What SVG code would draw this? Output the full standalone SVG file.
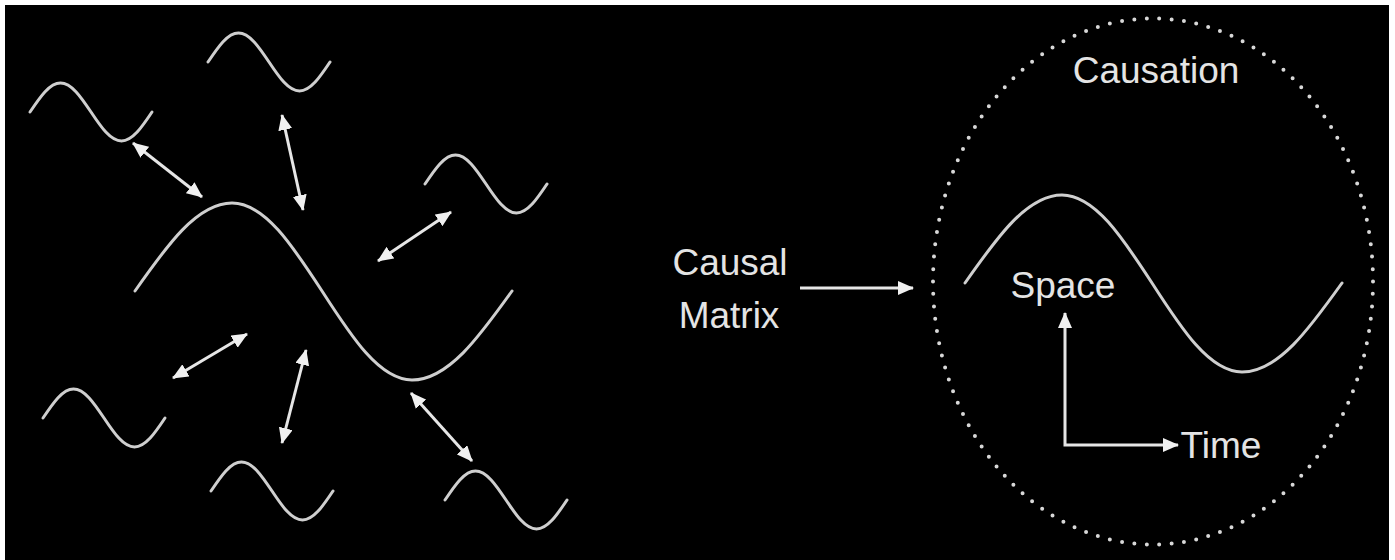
<svg xmlns="http://www.w3.org/2000/svg" width="1395" height="560" viewBox="0 0 1395 560">
  <style>
    .wave { fill: none; stroke: #cfcfcf; stroke-width: 3; stroke-linecap: round; }
    .conn { fill: none; stroke: #e6e6e6; stroke-width: 3; }
    .lbl { font-family: "Liberation Sans", Arial, sans-serif; font-size: 37px; fill: #e4e4e4; text-anchor: middle; }
    .dots { fill: none; stroke: #d8d8d8; stroke-width: 4; stroke-linecap: round; stroke-dasharray: 0 1; }
  </style>
  <defs>
    <path id="sw" d="M0,0 C9.95,-14.9 19.46,-29 30.5,-29 C41.54,-29 51.05,-14.9 61,0 C70.95,14.9 80.46,29 91.5,29 C102.54,29 112.05,14.9 122,0"/>
    <path id="bw" d="M135,291 C166.6,245.9 196.9,203 232,203 C264.6,203 292.7,245.9 322,291 C351.3,336.6 379.4,380 412,380 C448.2,380 479.4,336.6 512,291"/>
    <marker id="ah" viewBox="0 0 16 14" markerWidth="16" markerHeight="14" refX="15" refY="7" orient="auto-start-reverse" markerUnits="userSpaceOnUse">
      <path d="M0,0 L16,7 L0,14 z" fill="#f0f0f0"/>
    </marker>
  </defs>
  <rect x="5" y="5" width="1384" height="555" fill="#000"/>

  <g id="wave-tl"><use href="#sw" class="wave" transform="translate(30,112)"/></g>
  <g id="wave-t"><use href="#sw" class="wave" transform="translate(208,62)"/></g>
  <g id="wave-r"><use href="#sw" class="wave" transform="translate(425,184)"/></g>
  <g id="wave-bl"><use href="#sw" class="wave" transform="translate(43,418)"/></g>
  <g id="wave-b"><use href="#sw" class="wave" transform="translate(211,491)"/></g>
  <g id="wave-br"><use href="#sw" class="wave" transform="translate(445,500)"/></g>
  <g id="wave-main"><use href="#bw" class="wave"/></g>

  <g id="causal-matrix">
    <text class="lbl" x="730" y="275">Causal</text>
    <text class="lbl" x="729" y="328">Matrix</text>
  </g>

  <g id="causation">
    <ellipse class="dots" cx="1153" cy="281.5" rx="220" ry="263" pathLength="122"/>
    <text class="lbl" x="1156" y="83">Causation</text>
    <use href="#bw" class="wave" transform="translate(830,-8)"/>
    <text class="lbl" x="1063" y="298">Space</text>
    <text class="lbl" x="1221" y="458">Time</text>
  </g>

  <g id="connectors">
    <line class="conn" x1="133" y1="143" x2="202" y2="197" marker-start="url(#ah)" marker-end="url(#ah)"/>
    <line class="conn" x1="282" y1="115" x2="303" y2="210" marker-start="url(#ah)" marker-end="url(#ah)"/>
    <line class="conn" x1="378" y1="261" x2="451" y2="212" marker-start="url(#ah)" marker-end="url(#ah)"/>
    <line class="conn" x1="173" y1="378" x2="247" y2="334" marker-start="url(#ah)" marker-end="url(#ah)"/>
    <line class="conn" x1="306" y1="350" x2="282" y2="443" marker-start="url(#ah)" marker-end="url(#ah)"/>
    <line class="conn" x1="411" y1="393" x2="472" y2="461" marker-start="url(#ah)" marker-end="url(#ah)"/>
    <line class="conn" x1="800" y1="288" x2="913" y2="288" marker-end="url(#ah)"/>
    <path class="conn" d="M1065,313 L1065,445 L1178,445" marker-start="url(#ah)" marker-end="url(#ah)"/>
  </g>
</svg>
